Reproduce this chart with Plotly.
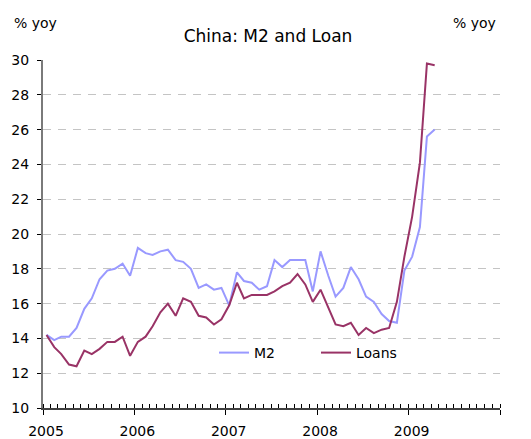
import plotly.graph_objects as go

# monthly observations, Jan 2005 - Apr 2009 (plotted mid-month)
months = [f"{y}-{m:02d}-15" for y in range(2005, 2010) for m in range(1, 13)][:52]

m2 = [14.2, 13.9, 14.1, 14.1, 14.6, 15.7, 16.3, 17.4, 17.9, 18.0, 18.3, 17.6,
      19.2, 18.9, 18.8, 19.0, 19.1, 18.5, 18.4, 18.0, 16.9, 17.1, 16.8, 16.9,
      15.9, 17.8, 17.3, 17.2, 16.8, 17.0, 18.5, 18.1, 18.5, 18.5, 18.5, 16.7,
      19.0, 17.6, 16.4, 16.9, 18.1, 17.4, 16.4, 16.1, 15.4, 15.0, 14.9, 17.9,
      18.7, 20.4, 25.6, 26.0]

loans = [14.2, 13.5, 13.1, 12.5, 12.4, 13.3, 13.1, 13.4, 13.8, 13.8, 14.1, 13.0,
         13.8, 14.1, 14.7, 15.5, 16.0, 15.3, 16.3, 16.1, 15.3, 15.2, 14.8, 15.1,
         15.9, 17.2, 16.3, 16.5, 16.5, 16.5, 16.7, 17.0, 17.2, 17.7, 17.1, 16.1,
         16.8, 15.8, 14.8, 14.7, 14.9, 14.2, 14.6, 14.3, 14.5, 14.6, 16.1, 18.7,
         21.0, 24.1, 29.8, 29.7]

y_range = [10, 30]
y_ticks = [10, 12, 14, 16, 18, 20, 22, 24, 26, 28, 30]

FONT = "DejaVu Sans, Verdana, sans-serif"

fig = go.Figure()
fig.add_trace(go.Scatter(x=months, y=m2, name="M2", mode="lines",
                         line=dict(color="#9999ff", width=2)))
fig.add_trace(go.Scatter(x=months, y=loans, name="Loans", mode="lines",
                         line=dict(color="#993366", width=2)))

yaxis_common = dict(range=y_range, tickvals=y_ticks, showline=True,
                    linewidth=2, ticks="outside",
                    ticklen=4, tickcolor="#000000", tickwidth=1,
                    tickfont=dict(size=14, color="#000000"), zeroline=False,
                    automargin=False)

# page body has an 8px margin, so the figure sits 8px right and down
fig.update_layout(
    width=531, height=439,
    margin=dict(l=35, r=39, t=52, b=39, autoexpand=False),
    paper_bgcolor="white", plot_bgcolor="white",
    font=dict(family=FONT, color="#000000"),
    title=dict(text="China: M2 and Loan", x=260 / 531, xanchor="center",
               y=1 - 28 / 439, yanchor="middle", font=dict(size=17)),
    showlegend=True,
    legend=dict(orientation="h", x=(214 - 43) / 457, y=(408 - 353) / 348,
                xanchor="left", yanchor="middle", bgcolor="rgba(0,0,0,0)",
                font=dict(size=14), entrywidth=57, tracegroupgap=0),
    xaxis=dict(type="date", range=["2005-01-01", "2010-01-01"],
               tickvals=["2005-01-01", "2006-01-01", "2007-01-01", "2008-01-01",
                         "2009-01-01", "2010-01-01"],
               ticktext=["2005", "2006", "2007", "2008", "2009", ""],
               showline=True, linecolor="#404040", linewidth=1.5,
               ticks="outside", ticklen=5, tickcolor="#000000",
               tickfont=dict(size=14), showgrid=False, zeroline=False,
               automargin=False, ticklabelstandoff=4, ticklabelshift=3,
               minor=dict(dtick="M1", tick0="2005-01-01", ticks="inside",
                          ticklen=4, tickcolor="#000000", showgrid=False)),
    yaxis=dict(**yaxis_common, side="left", linecolor="#7a7a7a",
               showgrid=True, gridcolor="#c4c4c4", griddash="8px,7px",
               gridwidth=1, ticklabelstandoff=5),
    yaxis2=dict(**yaxis_common, side="right", overlaying="y",
                linecolor="#a0a0a0", showgrid=False, ticklabelstandoff=4),
    yaxis3=dict(range=y_range, tickvals=y_ticks, overlaying="y", side="left",
                ticks="inside", ticklen=5, tickcolor="#000000",
                showticklabels=False, showgrid=False, zeroline=False,
                automargin=False),
    yaxis4=dict(range=y_range, tickvals=y_ticks, overlaying="y", side="right",
                ticks="inside", ticklen=5, tickcolor="#000000",
                showticklabels=False, showgrid=False, zeroline=False,
                automargin=False),
)

fig.add_annotation(text="% yoy", xref="paper", yref="paper",
                   x=-8 / 457, y=(408 - 23) / 348, showarrow=False,
                   xanchor="center", yanchor="middle", font=dict(size=14))
fig.add_annotation(text="% yoy", xref="paper", yref="paper",
                   x=(474 - 43) / 457, y=(408 - 23) / 348, showarrow=False,
                   xanchor="center", yanchor="middle", font=dict(size=14))

fig.write_html("out.html")
